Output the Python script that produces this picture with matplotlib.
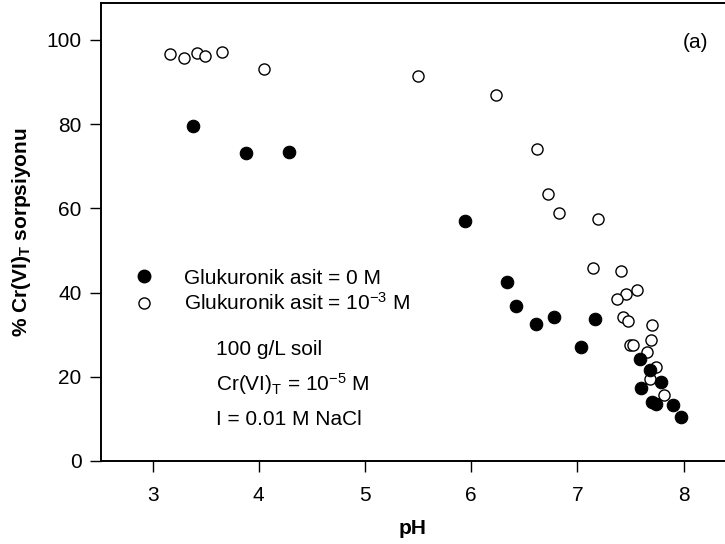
import matplotlib
matplotlib.use("Agg")
import matplotlib.pyplot as plt
from matplotlib.lines import Line2D

plt.rcParams['font.family'] = ['Liberation Sans', 'DejaVu Sans']
plt.rcParams['mathtext.fontset'] = 'custom'
plt.rcParams['mathtext.rm'] = 'Liberation Sans'
plt.rcParams['mathtext.it'] = 'Liberation Sans:italic'
plt.rcParams['mathtext.bf'] = 'Liberation Sans:bold'

# Glukuronik asit = 0 M (filled)
ph_0 = [3.38, 3.88, 4.28, 5.94, 6.34, 6.42, 6.61, 6.78, 7.17, 7.03,
        7.59, 7.68, 7.79, 7.60, 7.70, 7.74, 7.90, 7.98]
sorp_0 = [79.6, 73.2, 73.5, 57.1, 42.5, 36.8, 32.5, 34.2, 33.8, 27.1,
          24.3, 21.6, 18.7, 17.3, 14.0, 13.6, 13.3, 10.5]

# Glukuronik asit = 1e-3 M (open)
ph_3 = [3.16, 3.30, 3.42, 3.49, 3.65, 4.05, 5.50, 6.23, 6.62, 6.72,
        6.83, 7.19, 7.15, 7.41, 7.56, 7.46, 7.37, 7.43, 7.48, 7.70,
        7.69, 7.50, 7.52, 7.66, 7.74, 7.68, 7.82]
sorp_3 = [96.7, 95.6, 96.8, 96.1, 97.1, 93.0, 91.4, 87.0, 74.2, 63.4,
          59.0, 57.5, 45.8, 45.2, 40.5, 39.7, 38.4, 34.1, 33.2, 32.3,
          28.8, 27.5, 27.5, 25.9, 22.3, 19.5, 15.7]

FS = 15

fig = plt.figure(figsize=(7.25, 5.44), dpi=100)
ax = fig.add_axes([0.1393, 0.1526, 0.8607, 0.8413])

ax.plot(ph_3, sorp_3, 'o', ms=8, mfc='white', mec='black', mew=1.0, ls='none', zorder=3)
ax.plot(ph_0, sorp_0, 'o', ms=9, mfc='black', mec='black', mew=0.8, ls='none', zorder=4)

ax.set_xlim(2.514, 8.39)
ax.set_ylim(0, 108.7)
ax.set_xticks([3, 4, 5, 6, 7, 8])
ax.set_yticks([0, 20, 40, 60, 80, 100])
ax.tick_params(direction='out', length=8, width=1.0, labelsize=FS)
ax.tick_params(axis='x', pad=10)
ax.tick_params(axis='y', pad=6)
ax.spines['right'].set_visible(False)
for s in ('left', 'bottom', 'top'):
    ax.spines[s].set_linewidth(1.4)

ax.set_xlabel('pH', fontsize=FS, fontweight='bold', labelpad=10)
ax.set_ylabel(r'% Cr(VI)$_\mathbf{T}$ sorpsiyonu', fontsize=FS, fontweight='bold', labelpad=10)

handles = [
    Line2D([], [], marker='o', ls='none', ms=9, mfc='black', mec='black'),
    Line2D([], [], marker='o', ls='none', ms=8, mfc='white', mec='black', mew=1.0),
]
labels = ['Glukuronik asit = 0 M', r'Glukuronik asit = 10$^{-3}$ M']
ax.legend(handles, labels, loc='upper left', bbox_to_anchor=(0.052, 0.42),
          frameon=False, fontsize=FS, handlelength=1.0, handletextpad=1.45,
          labelspacing=0.22, borderpad=0, borderaxespad=0)

ax.text(0.1836, 0.244, '100 g/L soil', transform=ax.transAxes, fontsize=FS,
        ha='left', va='center')
ax.text(0.1836, 0.168, r'Cr(VI)$_\mathrm{T}$ = 10$^{-5}$ M', transform=ax.transAxes,
        fontsize=FS, ha='left', va='center')
ax.text(0.1836, 0.091, 'I = 0.01 M NaCl', transform=ax.transAxes, fontsize=FS,
        ha='left', va='center')
ax.text(0.953, 0.915, '(a)', transform=ax.transAxes, fontsize=FS,
        ha='center', va='center')

fig.savefig('out.png', dpi=100)
